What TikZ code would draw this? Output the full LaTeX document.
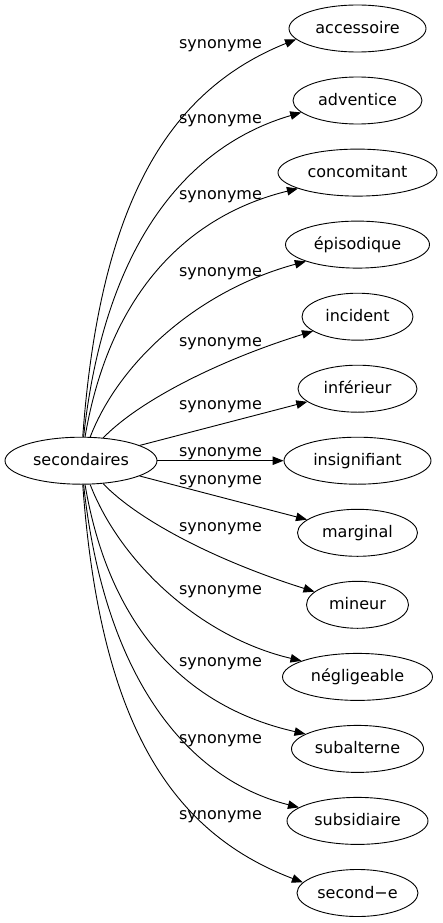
\documentclass[tikz,border=0pt]{standalone}
\usepackage{fontspec}
\setmainfont{DejaVu Sans}
\usetikzlibrary{arrows.meta,shapes.geometric}
\begin{document}
\begin{tikzpicture}[x=1pt,y=-1pt,
  every node/.style={font=\fontsize{16}{19}\selectfont},
  word/.style={ellipse,draw,line width=0.9pt,inner sep=0pt,minimum height=47pt,text height=13pt,text depth=3pt},
  lab/.style={anchor=base,inner sep=0pt},
  syn/.style={line width=0.9pt,-{Triangle[length=11pt,width=8.5pt]}}]
\useasboundingbox (0,0) rectangle (442,923);
\node[word,minimum width=152pt] (s) at (81,460.7) {secondaires};
\node[word,minimum width=137pt] (t1) at (357.5,28.5) {accessoire};
\node[word,minimum width=129pt] (t2) at (357.5,100.5) {adventice};
\node[word,minimum width=159pt] (t3) at (357.5,172.6) {concomitant};
\node[word,minimum width=144pt] (t4) at (357.5,244.6) {épisodique};
\node[word,minimum width=111pt] (t5) at (357.5,316.7) {incident};
\node[word,minimum width=119pt] (t6) at (357.5,388.7) {inférieur};
\node[word,minimum width=147pt] (t7) at (357.5,460.7) {insignifiant};
\node[word,minimum width=120pt] (t8) at (357.5,532.8) {marginal};
\node[word,minimum width=102pt] (t9) at (357.5,604.8) {mineur};
\node[word,minimum width=150pt] (t10) at (357.5,676.9) {négligeable};
\node[word,minimum width=132pt] (t11) at (357.5,748.9) {subalterne};
\node[word,minimum width=141pt] (t12) at (357.5,820.9) {subsidiaire};
\node[word,minimum width=121pt] (t13) at (357.5,893) {second−e};
\node[lab] (l1) at (220.5,49) {synonyme};
\node[lab] (l2) at (220.5,124) {synonyme};
\node[lab] (l3) at (220.5,199) {synonyme};
\node[lab] (l4) at (220.5,276) {synonyme};
\node[lab] (l5) at (220.5,346) {synonyme};
\node[lab] (l6) at (220.5,409) {synonyme};
\node[lab] (l7) at (220.5,456) {synonyme};
\node[lab] (l8) at (220.5,484) {synonyme};
\node[lab] (l9) at (220.5,531) {synonyme};
\node[lab] (l10) at (220.5,594) {synonyme};
\node[lab] (l11) at (220.5,666) {synonyme};
\node[lab] (l12) at (220.5,743) {synonyme};
\node[lab] (l13) at (220.5,819) {synonyme};
\draw[syn] (s) .. controls (100,200) and (170,90) .. (t1.190);
\draw[syn] (s) .. controls (105,240) and (190,145) .. (t2.192);
\draw[syn] (s) .. controls (110,290) and (190,215) .. (t3.195);
\draw[syn] (s) .. controls (120,360) and (200,290) .. (t4.198);
\draw[syn] (s) .. controls (140,400) and (220,360) .. (t5.198);
\draw[syn] (s) -- (t6);
\draw[syn] (s) -- (t7);
\draw[syn] (s) -- (t8);
\draw[syn] (s) .. controls (140,522) and (220,562) .. (t9.163);
\draw[syn] (s) .. controls (120,562) and (200,637) .. (t10.164);
\draw[syn] (s) .. controls (110,632) and (190,708) .. (t11.164);
\draw[syn] (s) .. controls (105,682) and (190,780) .. (t12.167);
\draw[syn] (s) .. controls (100,722) and (170,832) .. (t13.169);
\end{tikzpicture}
\end{document}
